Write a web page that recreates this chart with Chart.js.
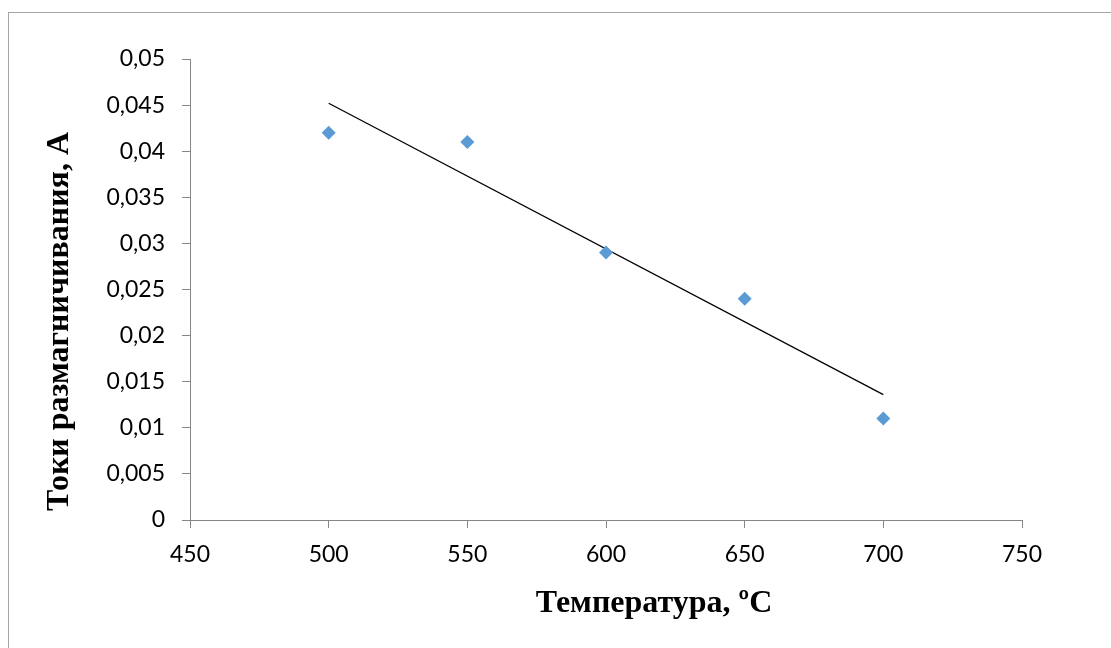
<!DOCTYPE html>
<html>
<head>
<meta charset="utf-8">
<script src="https://cdn.jsdelivr.net/npm/chart.js@4/dist/chart.umd.min.js"></script>
<style>
  html, body { margin: 0; padding: 0; background: #fff; overflow: hidden; }
  #wrap { position: relative; width: 1111px; height: 648px; }
  #frame { position: absolute; left: 8px; top: 12px; width: 1200px; height: 700px;
           border-left: 1px solid #a6a6a6; border-top: 1px solid #a6a6a6; }
  canvas { position: absolute; left: 0; top: 0; }
</style>
</head>
<body>
<div id="wrap">
  <div id="frame"></div>
  <canvas id="chart" width="1111" height="648"></canvas>
</div>
<script>
// data
const temps = [500, 550, 600, 650, 700];
const currents = [0.042, 0.041, 0.029, 0.024, 0.011];
// linear trend line end points (as drawn)
const trendX = [500, 700];
const trendY = [0.0452, 0.0136];

const yTickLabels = ['0', '0,005', '0,01', '0,015', '0,02', '0,025', '0,03', '0,035', '0,04', '0,045', '0,05'];
const xTickLabels = ['450', '500', '550', '600', '650', '700', '750'];

const xTitle = 'Температура, ºС';
const yTitle = 'Токи размагничивания, А';

const axisGrey = '#868686';
const titleFont = 'bold 32px "Liberation Serif", "Times New Roman", serif';

// axis titles, placed like in the original (a bit off-centre)
const axisTitles = {
  id: 'axisTitles',
  afterDraw(chart) {
    const a = chart.chartArea;
    const c = chart.ctx;
    c.save();
    c.fillStyle = '#000';
    c.font = titleFont;
    c.textAlign = 'center';
    c.textBaseline = 'middle';
    c.fillText(xTitle, (a.left + a.right) / 2 + 48, a.bottom + 84);
    c.translate(a.left - 130, (a.top + a.bottom) / 2 + 32);
    c.rotate(-Math.PI / 2);
    c.fillText(yTitle, 0, 0);
    c.restore();
  }
};

const ctx = document.getElementById('chart').getContext('2d');
const chart = new Chart(ctx, {
  type: 'scatter',
  data: {
    datasets: [{
      label: 'data',
      data: temps.map((t, i) => ({ x: t, y: currents[i] })),
      pointStyle: 'rectRot',
      pointRadius: 7,
      pointHoverRadius: 7,
      backgroundColor: '#5b9bd5',
      borderColor: '#5b9bd5',
      borderWidth: 0,
      order: 1
    }, {
      label: 'trend',
      type: 'line',
      data: trendX.map((t, i) => ({ x: t, y: trendY[i] })),
      borderColor: '#000',
      borderWidth: 1.3,
      pointRadius: 0,
      fill: false,
      order: 2
    }]
  },
  options: {
    responsive: false,
    animation: false,
    events: [],
    layout: { padding: { left: 0, right: 89, top: 59, bottom: 0 } },
    plugins: { legend: { display: false }, tooltip: { enabled: false } },
    scales: {
      x: {
        type: 'linear',
        min: 450, max: 750,
        afterFit(s) { s.height = 128; },
        border: { display: true, color: axisGrey, width: 1 },
        grid: { drawOnChartArea: false, drawTicks: true, tickLength: 8, color: axisGrey },
        ticks: {
          stepSize: 50,
          padding: 13,
          color: '#000',
          font: { family: 'Lato', size: 23 },
          callback: (v, i) => xTickLabels[i]
        }
      },
      y: {
        min: 0, max: 0.05,
        afterFit(s) { s.width = 190; },
        border: { display: true, color: axisGrey, width: 1 },
        grid: { drawOnChartArea: false, drawTicks: true, tickLength: 8, color: axisGrey },
        ticks: {
          stepSize: 0.005,
          padding: 17,
          color: '#000',
          font: { family: 'Lato', size: 23 },
          callback: (v, i) => yTickLabels[i]
        }
      }
    }
  },
  plugins: [axisTitles]
});
</script>
</body>
</html>
